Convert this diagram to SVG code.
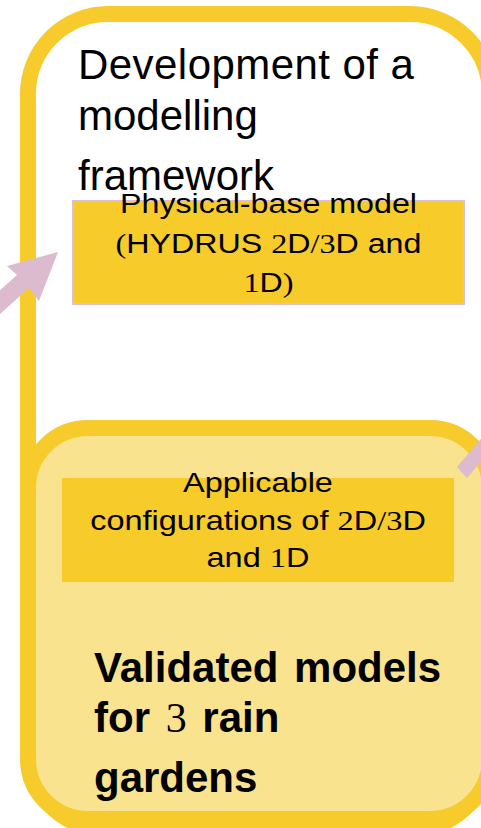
<svg xmlns="http://www.w3.org/2000/svg" width="481" height="828" viewBox="0 0 481 828">
<style>
.frame{fill:#FFFFFF;stroke:#F6CB2B;stroke-width:16}
.bottom{fill:#FAE38E;stroke:#F6CB2B;stroke-width:16}
.box{fill:#F6CB2A}
.boxp{fill:#F6CB2A;stroke:#DDBFD5;stroke-width:2}
.arrow{fill:#DBBBCD}
.t{font-family:"Liberation Sans",Arial,sans-serif;fill:#000}
.s{font-family:"Liberation Serif","Times New Roman",serif}
.title{font-size:42px}
.lbl{font-size:28px;text-anchor:middle}
.bold{font-size:42px;font-weight:bold}
</style>
<rect width="481" height="828" fill="#FFFFFF"/>
<g id="framework">
<rect class="frame" x="28" y="14" width="462" height="816" rx="80" ry="80"/>
<text class="t title" x="78" y="79" letter-spacing="0.45">Development of a</text>
<text class="t title" x="78" y="130">modelling</text>
<text class="t title" x="78" y="190">framework</text>
</g>
<g id="physical-model">
<rect class="boxp" x="73" y="201" width="391" height="103"/>
<text class="t lbl" transform="translate(268.5,213) scale(1.15,1)" x="0" y="0">Physical-base model</text>
<text class="t lbl" transform="translate(268.5,253) scale(1.15,1)" x="0" y="0"><tspan class="s">(</tspan>HYDRUS <tspan class="s">2</tspan>D<tspan class="s">/3</tspan>D and</text>
<text class="t lbl" transform="translate(268.5,292) scale(1.15,1)" x="0" y="0"><tspan class="s">1</tspan>D<tspan class="s">)</tspan></text>
</g>
<g id="validated-models">
<rect class="bottom" x="28" y="428" width="462" height="391" rx="60" ry="60"/>
<text class="t bold" x="94" y="682" word-spacing="4">Validated models</text>
<text class="t bold" x="94" y="732" word-spacing="4">for <tspan class="s" font-weight="normal">3</tspan> rain</text>
<text class="t bold" x="94" y="792">gardens</text>
</g>
<g id="applicable-configurations">
<rect class="box" x="62" y="478" width="392" height="104"/>
<text class="t lbl" transform="translate(258,492) scale(1.16,1)" x="0" y="0">Applicable</text>
<text class="t lbl" transform="translate(258,530) scale(1.16,1)" x="0" y="0">configurations of <tspan class="s">2</tspan>D<tspan class="s">/3</tspan>D</text>
<text class="t lbl" transform="translate(258,567) scale(1.16,1)" x="0" y="0">and <tspan class="s">1</tspan>D</text>
</g>
<g id="connectors">
<polygon class="arrow" points="58,252 39,301 29,288 -5,318.6 -5,294.8 17,275 7,266"/>
<polygon class="arrow" points="457,467 486,433 486,456 467,478"/>
</g>
</svg>
